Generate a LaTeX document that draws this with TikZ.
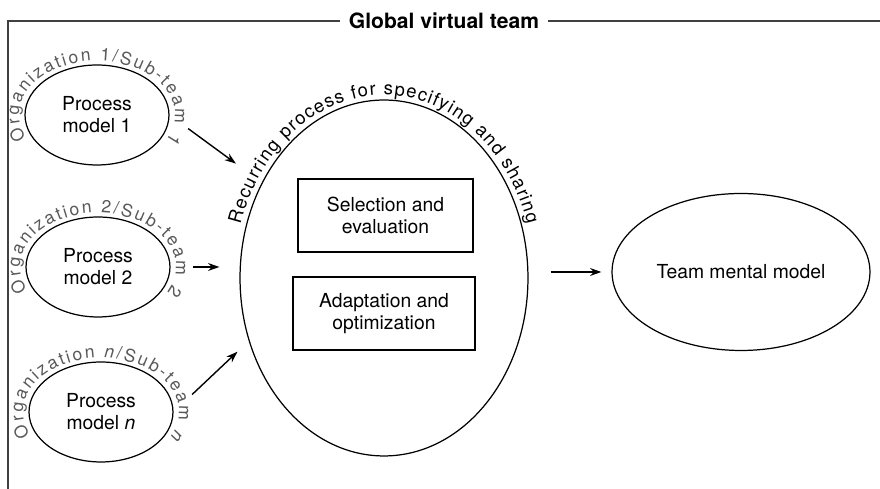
\documentclass[tikz,border=0pt]{standalone}
\usepackage{fontspec}
\setmainfont{TeX Gyre Heros}
\usetikzlibrary{shapes,arrows,arrows.meta,positioning,calc,decorations.text}
\newcommand{\orgfont}{\fontsize{10}{12}\selectfont\upshape\color{black!65}}
\newcommand{\recfont}{\fontsize{10.5}{12}\selectfont}
\tikzstyle{model} = [ellipse, draw, line width=0.7pt, minimum width=2.88cm, minimum height=2cm, align=center, font=\fontsize{11}{12.5}\selectfont]
\tikzstyle{stagebox} = [rectangle, draw, line width=0.7pt, minimum height=1.46cm, align=center, font=\fontsize{11}{12.5}\selectfont]
\tikzstyle{arrow} = [line width=0.8pt,->,>={Stealth[length=6.5pt,width=4.5pt]}]
\tikzset{arclabel/.style={decorate, decoration={text along path, text align=fit to path, text={#1}}}}

\begin{document}
\begin{tikzpicture}[x=0.02cm, y=0.02cm]
	\useasboundingbox (0,0) rectangle (880,489);
	% frame of the team
	\draw[line width=1pt, black!75] (8,0) -- (8,468) -- (880,468);
	\node (title) [fill=white, inner xsep=5pt, font=\fontsize{12}{14}\selectfont\bfseries] at (444,468) {Global virtual team};
	% process models of the sub-teams
	\node (p1) [model] at (97,374) {Process\\model 1};
	\node (p2) [model] at (98,222) {Process\\model 2};
	\node (pn) [model] at (101,77) {Process\\model \textit{n}};
	\path[arclabel={|\orgfont|Organization 1/Sub-team 1}] ($(p1)+(205:1.56cm and 1.08cm)$) arc[start angle=205, end angle=-28, x radius=1.56cm, y radius=1.08cm];
	\path[arclabel={|\orgfont|Organization 2/Sub-team 2}] ($(p2)+(205:1.56cm and 1.08cm)$) arc[start angle=205, end angle=-28, x radius=1.56cm, y radius=1.08cm];
	\path[arclabel={|\orgfont|Organization |\orgfont\itshape|n|\orgfont|/Sub-team |\orgfont\itshape|n}] ($(pn)+(205:1.56cm and 1.08cm)$) arc[start angle=205, end angle=-28, x radius=1.56cm, y radius=1.08cm];
	% recurring process
	\node (big) [ellipse, draw, line width=0.7pt, minimum width=5.76cm, minimum height=7.12cm] at (384,211) {};
	\path[arclabel={|\recfont|Recurring process for specifying and sharing}] ($(big)+(163:3cm and 3.66cm)$) arc[start angle=163, end angle=17, x radius=3cm, y radius=3.66cm];
	\node (sel) [stagebox, minimum width=3.5cm] at (385.5,273.5) {Selection and\\evaluation};
	\node (adp) [stagebox, minimum width=3.64cm] at (384,175.5) {Adaptation and\\optimization};
	% result
	\node (team) [ellipse, draw, line width=0.7pt, minimum width=5.16cm, minimum height=3.14cm, font=\fontsize{11}{12.5}\selectfont] at (741,217) {Team mental model};
	\draw [arrow, shorten <=0.46cm, shorten >=0.64cm] (p1.east) -- (big.142);
	\draw [arrow, shorten <=0.44cm, shorten >=0.4cm] (p2.east) -- (big.west |- p2.east);
	\draw [arrow, shorten <=0.51cm, shorten >=0.31cm] (pn.east) -- (big.205);
	\draw [arrow, shorten <=0.44cm, shorten >=0.2cm] (big.east |- team.west) -- (team.west);
\end{tikzpicture}
\end{document}
